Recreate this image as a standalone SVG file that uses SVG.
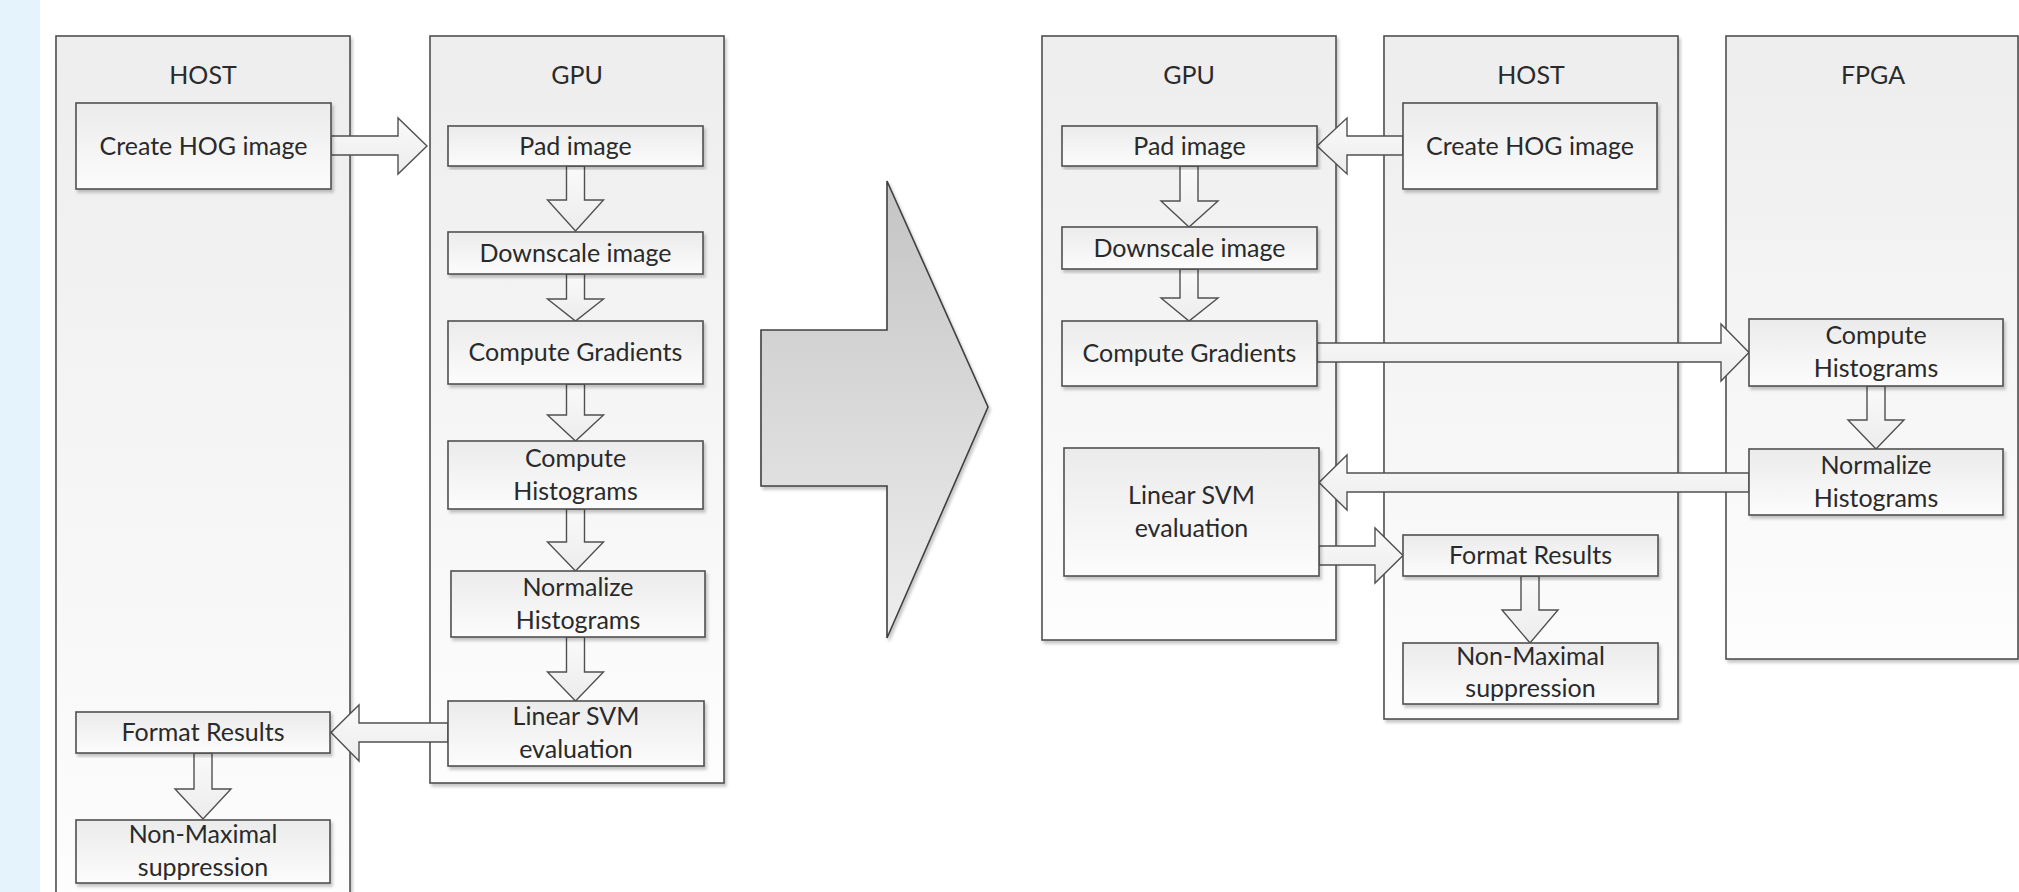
<svg xmlns="http://www.w3.org/2000/svg" width="2019" height="892" viewBox="0 0 2019 892">
<defs>
<linearGradient id="laneG" x1="0" y1="0" x2="0" y2="1"><stop offset="0" stop-color="#ededed"/><stop offset="1" stop-color="#fdfdfd"/></linearGradient>
<linearGradient id="boxG" x1="0" y1="0" x2="0" y2="1"><stop offset="0" stop-color="#ebebeb"/><stop offset="1" stop-color="#fcfcfc"/></linearGradient>
<linearGradient id="arrG" x1="0" y1="0" x2="0" y2="1"><stop offset="0" stop-color="#fafafa"/><stop offset="1" stop-color="#ececec"/></linearGradient>
<linearGradient id="bigG" x1="0" y1="0" x2="0" y2="1"><stop offset="0" stop-color="#c4c4c4"/><stop offset="1" stop-color="#eeeeee"/></linearGradient>
<filter id="sh" x="-5%" y="-5%" width="115%" height="115%"><feDropShadow dx="2" dy="3" stdDeviation="1.5" flood-color="#000" flood-opacity="0.22"/></filter>
<style>
.lane{fill:url(#laneG);stroke:#505050;stroke-width:1.6;filter:url(#sh)}
.box{fill:url(#boxG);stroke:#505050;stroke-width:1.6;filter:url(#sh)}
.arr{fill:url(#arrG);stroke:#505050;stroke-width:1.4;stroke-linejoin:miter}
.big{fill:url(#bigG);stroke:#404040;stroke-width:1.6;filter:url(#sh)}
text{font-family:Lato,"Liberation Sans",sans-serif;font-size:25px;fill:#2a2a2a;text-anchor:middle}
</style>
</defs>
<rect x="0" y="0" width="2019" height="892" fill="#ffffff"/>
<rect x="0" y="0" width="40" height="892" fill="#e5f3fd"/>

<g id="lanes">
<g id="lane-host-left"><rect class="lane" x="56" y="36" width="294" height="870"/><text x="203" y="84">HOST</text></g>
<g id="lane-gpu-left"><rect class="lane" x="430" y="36" width="294" height="747"/><text x="577" y="84">GPU</text></g>
<g id="lane-gpu-right"><rect class="lane" x="1042" y="36" width="294" height="604"/><text x="1189" y="84">GPU</text></g>
<g id="lane-host-right"><rect class="lane" x="1384" y="36" width="294" height="683"/><text x="1531" y="84">HOST</text></g>
<g id="lane-fpga"><rect class="lane" x="1726" y="36" width="292" height="623"/><text x="1873" y="84">FPGA</text></g>
</g>

<g id="transform-arrow"><polygon class="big" points="761,330 887,330 887,181 988,407 887,638 887,486 761,486"/></g>

<g id="connectors">
<!-- left side -->
<polygon class="arr" points="331,136 398,136 398,118 427,146 398,174 398,155 331,155"/>
<polygon class="arr" points="566.5,166 584.5,166 584.5,200 603.5,200 575.5,231 547.5,200 566.5,200"/>
<polygon class="arr" points="566.5,274 584.5,274 584.5,299 603.5,299 575.5,321 547.5,299 566.5,299"/>
<polygon class="arr" points="566.5,384 584.5,384 584.5,415 603.5,415 575.5,441 547.5,415 566.5,415"/>
<polygon class="arr" points="566.5,509 584.5,509 584.5,542 603.5,542 575.5,571 547.5,542 566.5,542"/>
<polygon class="arr" points="566.5,637 584.5,637 584.5,672 603.5,672 575.5,701 547.5,672 566.5,672"/>
<polygon class="arr" points="448,723 359,723 359,705 331,732.5 359,761 359,742 448,742"/>
<polygon class="arr" points="194,753 212,753 212,789 231,789 203,819 175,789 194,789"/>
<!-- right side -->
<polygon class="arr" points="1403,136 1347,136 1347,118 1317,146 1347,174 1347,155 1403,155"/>
<polygon class="arr" points="1180,166 1198,166 1198,201 1218,201 1189,227 1161,201 1180,201"/>
<polygon class="arr" points="1180,269 1198,269 1198,298 1218,298 1189,321 1161,298 1180,298"/>
<polygon class="arr" points="1317,343 1721,343 1721,324 1749,352.5 1721,381 1721,362 1317,362"/>
<polygon class="arr" points="1867,386 1885,386 1885,420 1904,420 1876,449 1848,420 1867,420"/>
<polygon class="arr" points="1749,473 1347,473 1347,455 1319,482.5 1347,510 1347,492 1749,492"/>
<polygon class="arr" points="1319,546 1375,546 1375,528 1403,555.5 1375,583 1375,565 1319,565"/>
<polygon class="arr" points="1521,576 1539,576 1539,610 1558,610 1530,643 1502,610 1521,610"/>
</g>

<g id="n-create-hog-left"><rect class="box" x="76" y="103" width="255" height="86"/><text x="203.5" y="155">Create HOG image</text></g>
<g id="n-pad-left"><rect class="box" x="448" y="126" width="255" height="40"/><text x="575.5" y="155">Pad image</text></g>
<g id="n-downscale-left"><rect class="box" x="448" y="232" width="255" height="42"/><text x="575.5" y="262">Downscale image</text></g>
<g id="n-gradients-left"><rect class="box" x="448" y="321" width="255" height="63"/><text x="575.5" y="361">Compute Gradients</text></g>
<g id="n-histograms-left"><rect class="box" x="448" y="441" width="255" height="68"/><text x="575.5" y="467">Compute</text><text x="575.5" y="500">Histograms</text></g>
<g id="n-normalize-left"><rect class="box" x="451" y="571" width="254" height="66"/><text x="578" y="596">Normalize</text><text x="578" y="629">Histograms</text></g>
<g id="n-svm-left"><rect class="box" x="448" y="701" width="256" height="65"/><text x="576" y="725">Linear SVM</text><text x="576" y="758">evaluation</text></g>
<g id="n-format-left"><rect class="box" x="76" y="712" width="254" height="41"/><text x="203" y="741">Format Results</text></g>
<g id="n-nms-left"><rect class="box" x="76" y="820" width="254" height="63"/><text x="203" y="843">Non-Maximal</text><text x="203" y="876">suppression</text></g>

<g id="n-pad-right"><rect class="box" x="1062" y="126" width="255" height="40"/><text x="1189.5" y="155">Pad image</text></g>
<g id="n-downscale-right"><rect class="box" x="1062" y="227" width="255" height="42"/><text x="1189.5" y="257">Downscale image</text></g>
<g id="n-gradients-right"><rect class="box" x="1062" y="321" width="255" height="65"/><text x="1189.5" y="362">Compute Gradients</text></g>
<g id="n-svm-right"><rect class="box" x="1064" y="448" width="255" height="128"/><text x="1191.5" y="504">Linear SVM</text><text x="1191.5" y="537">evaluation</text></g>
<g id="n-create-hog-right"><rect class="box" x="1403" y="103" width="254" height="86"/><text x="1530" y="155">Create HOG image</text></g>
<g id="n-format-right"><rect class="box" x="1403" y="535" width="255" height="41"/><text x="1530.5" y="564">Format Results</text></g>
<g id="n-nms-right"><rect class="box" x="1403" y="643" width="255" height="61"/><text x="1530.5" y="665">Non-Maximal</text><text x="1530.5" y="697">suppression</text></g>
<g id="n-histograms-fpga"><rect class="box" x="1749" y="319" width="254" height="67"/><text x="1876" y="344">Compute</text><text x="1876" y="377">Histograms</text></g>
<g id="n-normalize-fpga"><rect class="box" x="1749" y="449" width="254" height="66"/><text x="1876" y="474">Normalize</text><text x="1876" y="507">Histograms</text></g>
</svg>
